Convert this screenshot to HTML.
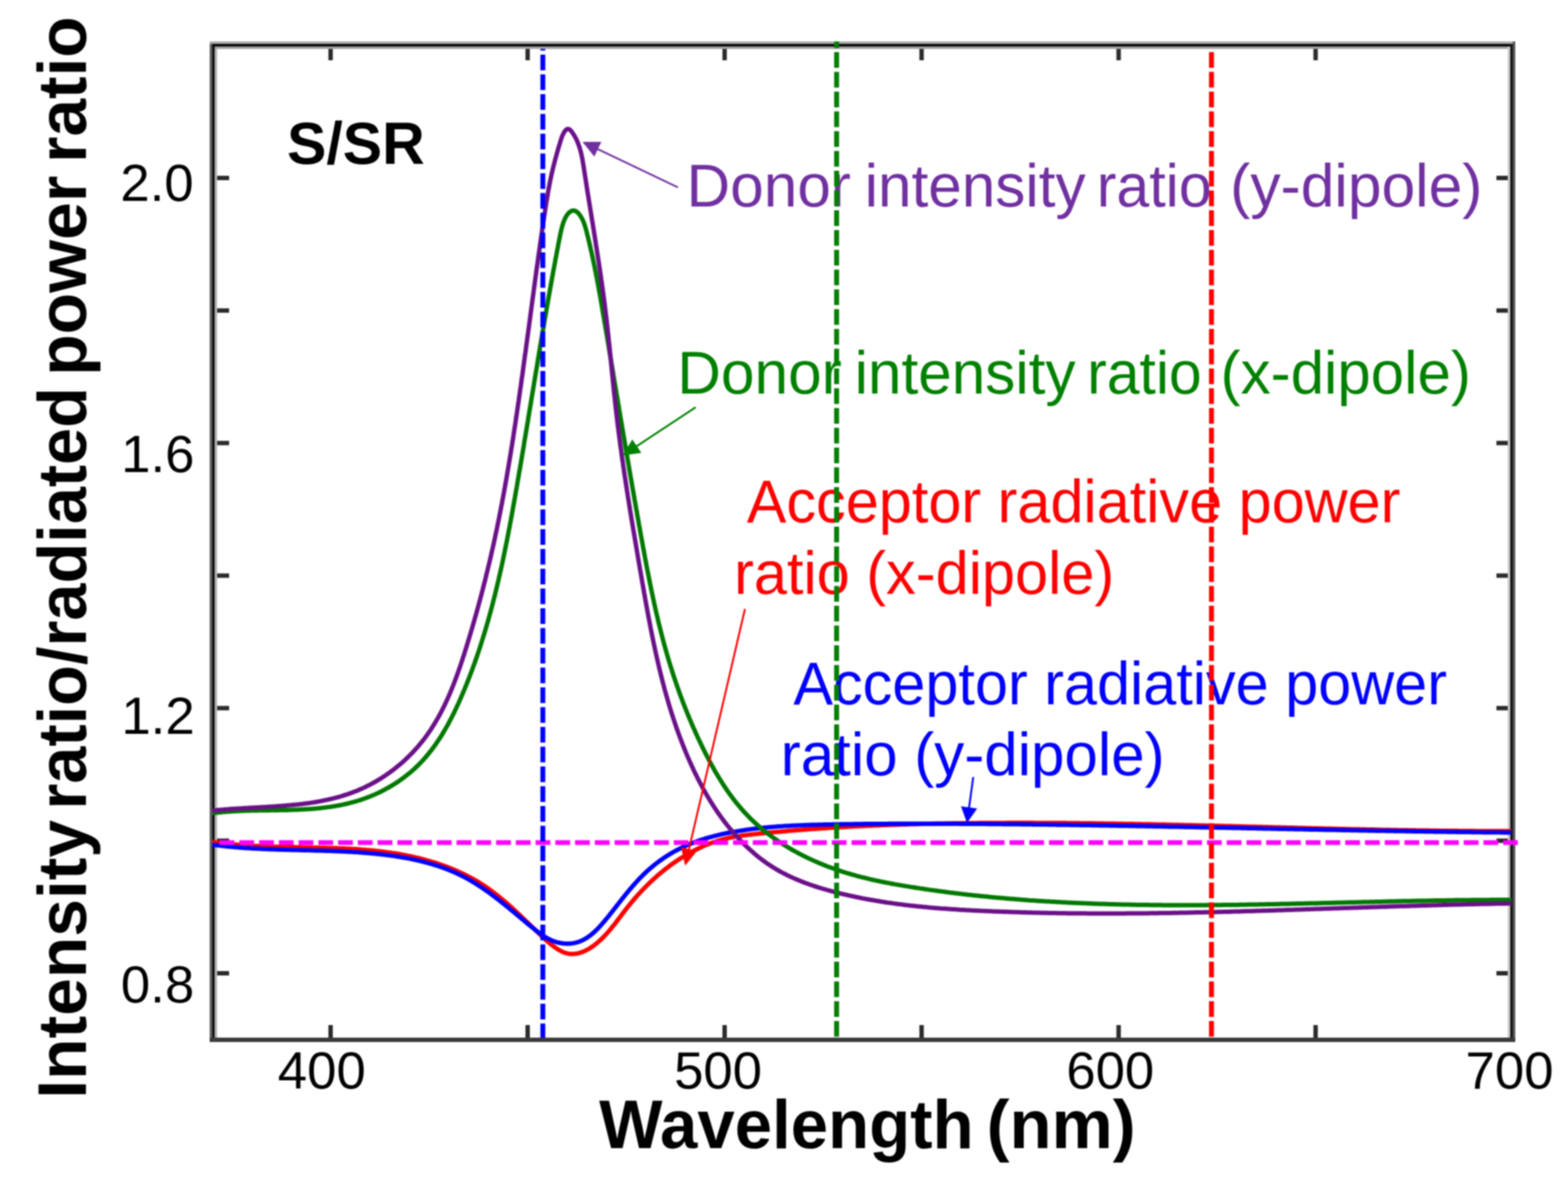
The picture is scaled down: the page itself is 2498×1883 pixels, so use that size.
<!DOCTYPE html>
<html><head><meta charset="utf-8"><title>S/SR intensity ratio vs wavelength</title>
<style>html,body{margin:0;padding:0;background:#fff;overflow:hidden;}svg{display:block;}</style>
</head><body>
<svg width="2498" height="1883" viewBox="0 0 2498 1883"><defs><filter id="soft" x="0" y="0" width="100%" height="100%" filterUnits="userSpaceOnUse" color-interpolation-filters="sRGB"><feGaussianBlur stdDeviation="1.1"/></filter></defs><rect width="2498" height="1883" fill="#fff"/><g filter="url(#soft)"><g shape-rendering="crispEdges"><rect x="334" y="66" width="4" height="1594" fill="#646464"/><rect x="338" y="70" width="4" height="1590" fill="#111"/><rect x="342" y="74" width="4" height="1579" fill="#b5b5b5"/><rect x="334" y="66" width="2080" height="4" fill="#aaa"/><rect x="338" y="70" width="2072" height="4" fill="#050505"/><rect x="342" y="74" width="2064" height="4" fill="#a0a0a0"/><rect x="2402" y="74" width="4" height="1579" fill="#c8c8c8"/><rect x="2406" y="70" width="4" height="1590" fill="#151515"/><rect x="2410" y="66" width="4" height="1594" fill="#555"/><rect x="334" y="1653" width="2080" height="7" fill="#3a3a3a"/></g><g stroke="#2a2a2a" stroke-width="7"><line x1="526.7" y1="1653" x2="526.7" y2="1633"/><line x1="526.7" y1="78" x2="526.7" y2="96"/><line x1="840.6" y1="1653" x2="840.6" y2="1633"/><line x1="840.6" y1="78" x2="840.6" y2="96"/><line x1="1154.4" y1="1653" x2="1154.4" y2="1633"/><line x1="1154.4" y1="78" x2="1154.4" y2="96"/><line x1="1468.2" y1="1653" x2="1468.2" y2="1633"/><line x1="1468.2" y1="78" x2="1468.2" y2="96"/><line x1="1782.1" y1="1653" x2="1782.1" y2="1633"/><line x1="1782.1" y1="78" x2="1782.1" y2="96"/><line x1="2095.9" y1="1653" x2="2095.9" y2="1633"/><line x1="2095.9" y1="78" x2="2095.9" y2="96"/><line x1="346" y1="283.5" x2="365" y2="283.5"/><line x1="2402" y1="283.5" x2="2384" y2="283.5"/><line x1="346" y1="494.7" x2="365" y2="494.7"/><line x1="2402" y1="494.7" x2="2384" y2="494.7"/><line x1="346" y1="705.8" x2="365" y2="705.8"/><line x1="2402" y1="705.8" x2="2384" y2="705.8"/><line x1="346" y1="917.0" x2="365" y2="917.0"/><line x1="2402" y1="917.0" x2="2384" y2="917.0"/><line x1="346" y1="1128.1" x2="365" y2="1128.1"/><line x1="2402" y1="1128.1" x2="2384" y2="1128.1"/><line x1="346" y1="1339.3" x2="365" y2="1339.3"/><line x1="2402" y1="1339.3" x2="2384" y2="1339.3"/><line x1="346" y1="1550.5" x2="365" y2="1550.5"/><line x1="2402" y1="1550.5" x2="2384" y2="1550.5"/></g><g fill="none" stroke-width="7" stroke-linejoin="round" stroke-linecap="butt"><path d="M338.0,1341.0L341.0,1341.4L344.0,1341.9L346.9,1342.3L349.9,1342.7L352.9,1343.1L355.9,1343.4L358.9,1343.8L361.8,1344.1L364.8,1344.4L367.8,1344.7L370.8,1345.0L373.8,1345.3L376.8,1345.6L379.8,1345.8L382.7,1346.1L385.7,1346.3L388.7,1346.5L391.7,1346.7L394.7,1347.0L397.7,1347.1L400.7,1347.3L403.7,1347.5L406.7,1347.7L409.7,1347.8L412.7,1348.0L415.7,1348.1L418.7,1348.2L421.7,1348.4L424.7,1348.5L427.7,1348.6L430.6,1348.7L433.6,1348.8L436.6,1348.9L439.6,1349.0L442.6,1349.1L445.6,1349.1L448.6,1349.2L451.6,1349.3L454.6,1349.3L457.7,1349.4L460.7,1349.5L463.7,1349.5L466.7,1349.6L469.7,1349.6L472.7,1349.7L475.7,1349.7L478.7,1349.8L481.7,1349.9L484.7,1349.9L487.7,1350.0L490.7,1350.0L493.7,1350.1L496.7,1350.1L499.7,1350.2L502.7,1350.2L505.7,1350.3L508.7,1350.4L511.7,1350.4L514.7,1350.5L517.7,1350.6L520.7,1350.7L523.7,1350.8L526.7,1350.8L529.7,1350.9L532.7,1351.0L535.7,1351.1L538.7,1351.3L541.7,1351.4L544.7,1351.5L547.7,1351.6L550.7,1351.8L553.7,1351.9L556.7,1352.1L559.7,1352.3L562.7,1352.4L565.7,1352.6L568.7,1352.8L571.6,1353.0L574.6,1353.2L577.6,1353.5L580.6,1353.7L583.6,1354.0L586.6,1354.2L589.6,1354.5L592.6,1354.8L595.6,1355.1L598.6,1355.4L601.5,1355.7L604.5,1356.1L607.5,1356.4L610.5,1356.8L613.5,1357.2L616.5,1357.6L619.4,1358.0L622.4,1358.4L625.4,1358.9L628.4,1359.3L631.3,1359.8L634.3,1360.3L637.3,1360.8L640.2,1361.4L643.2,1361.9L646.1,1362.5L649.1,1363.1L652.0,1363.7L655.0,1364.3L657.9,1365.0L660.8,1365.6L663.8,1366.3L666.7,1367.0L669.6,1367.7L672.5,1368.5L675.4,1369.2L678.3,1370.0L681.2,1370.8L684.1,1371.6L686.9,1372.5L689.8,1373.3L692.7,1374.2L695.5,1375.1L698.4,1376.1L701.2,1377.0L704.0,1378.0L706.8,1379.0L709.6,1380.0L712.4,1381.1L715.2,1382.2L718.0,1383.3L720.7,1384.4L723.5,1385.5L726.2,1386.7L728.9,1387.9L731.7,1389.1L734.4,1390.4L737.0,1391.6L739.7,1392.9L742.4,1394.3L745.0,1395.6L747.7,1397.0L750.3,1398.4L752.9,1399.8L755.5,1401.3L758.1,1402.8L760.7,1404.3L763.2,1405.8L765.7,1407.4L768.3,1409.0L770.8,1410.6L773.2,1412.3L775.7,1414.0L778.2,1415.7L780.6,1417.5L783.0,1419.2L785.4,1421.0L787.8,1422.9L790.2,1424.7L792.6,1426.6L794.9,1428.5L797.3,1430.4L799.6,1432.3L801.9,1434.2L804.2,1436.2L806.5,1438.2L808.8,1440.2L811.1,1442.2L813.4,1444.2L815.6,1446.2L817.9,1448.3L820.1,1450.3L822.3,1452.4L824.5,1454.5L826.7,1456.5L829.0,1458.6L831.1,1460.7L833.3,1462.8L835.5,1464.9L837.7,1467.0L839.9,1469.1L842.0,1471.1L844.2,1473.2L846.4,1475.3L848.5,1477.4L850.7,1479.5L852.8,1481.6L855.0,1483.6L857.1,1485.7L859.3,1487.7L861.4,1489.8L863.5,1491.8L865.7,1493.8L867.8,1495.8L870.0,1497.8L872.3,1499.8L874.5,1501.7L876.9,1503.7L879.3,1505.6L881.8,1507.5L884.4,1509.4L887.0,1511.2L889.8,1512.9L892.6,1514.5L895.4,1516.0L898.2,1517.2L901.1,1518.2L903.9,1518.9L906.7,1519.4L909.6,1519.7L912.4,1519.8L915.2,1519.6L918.0,1519.3L920.8,1518.7L923.6,1518.0L926.3,1517.1L929.0,1516.1L931.7,1514.9L934.4,1513.6L937.0,1512.2L939.6,1510.7L942.1,1509.0L944.6,1507.3L947.1,1505.5L949.5,1503.6L951.9,1501.6L954.2,1499.6L956.4,1497.5L958.7,1495.5L960.8,1493.3L962.9,1491.2L965.0,1489.0L967.0,1486.7L969.0,1484.5L971.0,1482.2L972.9,1479.9L974.8,1477.6L976.7,1475.2L978.6,1472.9L980.5,1470.5L982.3,1468.1L984.1,1465.7L985.9,1463.3L987.8,1460.9L989.6,1458.5L991.4,1456.1L993.2,1453.7L995.0,1451.3L996.9,1448.9L998.7,1446.6L1000.6,1444.2L1002.5,1441.9L1004.4,1439.5L1006.3,1437.2L1008.2,1434.9L1010.2,1432.6L1012.1,1430.4L1014.1,1428.1L1016.1,1425.9L1018.1,1423.6L1020.2,1421.4L1022.2,1419.2L1024.3,1417.1L1026.4,1414.9L1028.5,1412.8L1030.6,1410.6L1032.7,1408.5L1034.9,1406.5L1037.0,1404.4L1039.2,1402.3L1041.4,1400.3L1043.7,1398.3L1045.9,1396.3L1048.1,1394.4L1050.4,1392.4L1052.7,1390.5L1055.0,1388.6L1057.3,1386.7L1059.7,1384.8L1062.0,1383.0L1064.4,1381.2L1066.8,1379.4L1069.2,1377.6L1071.6,1375.9L1074.1,1374.2L1076.6,1372.5L1079.0,1370.8L1081.5,1369.2L1084.1,1367.5L1086.6,1366.0L1089.2,1364.4L1091.7,1362.8L1094.3,1361.3L1096.9,1359.8L1099.6,1358.4L1102.2,1356.9L1104.9,1355.5L1107.5,1354.2L1110.2,1352.8L1113.0,1351.5L1115.7,1350.2L1118.4,1349.0L1121.2,1347.7L1124.0,1346.6L1126.8,1345.4L1129.6,1344.3L1132.4,1343.2L1135.2,1342.2L1138.1,1341.2L1140.9,1340.3L1143.8,1339.4L1146.6,1338.5L1149.5,1337.7L1152.4,1336.9L1155.3,1336.2L1158.2,1335.5L1161.2,1334.8L1164.1,1334.2L1167.0,1333.6L1170.0,1333.1L1172.9,1332.6L1175.9,1332.1L1178.8,1331.7L1181.8,1331.2L1184.7,1330.8L1187.7,1330.5L1190.7,1330.1L1193.7,1329.7L1196.6,1329.4L1199.6,1329.1L1202.6,1328.8L1205.6,1328.4L1208.6,1328.1L1211.6,1327.8L1214.5,1327.5L1217.5,1327.2L1220.5,1326.9L1223.5,1326.6L1226.5,1326.3L1229.5,1326.1L1232.4,1325.8L1235.4,1325.5L1238.4,1325.2L1241.4,1324.9L1244.4,1324.7L1247.4,1324.4L1250.4,1324.2L1253.3,1323.9L1256.3,1323.6L1259.3,1323.4L1262.3,1323.1L1265.3,1322.9L1268.3,1322.6L1271.3,1322.4L1274.3,1322.2L1277.3,1321.9L1280.3,1321.7L1283.2,1321.5L1286.2,1321.3L1289.2,1321.0L1292.2,1320.8L1295.2,1320.6L1298.2,1320.4L1301.2,1320.2L1304.2,1320.0L1307.2,1319.8L1310.2,1319.6L1313.2,1319.4L1316.2,1319.2L1319.2,1319.0L1322.1,1318.8L1325.1,1318.6L1328.1,1318.5L1331.1,1318.3L1334.1,1318.1L1337.1,1317.9L1340.1,1317.8L1343.1,1317.6L1346.1,1317.4L1349.1,1317.3L1352.1,1317.1L1355.1,1316.9L1358.1,1316.8L1361.1,1316.6L1364.1,1316.5L1367.1,1316.3L1370.1,1316.2L1373.1,1316.0L1376.1,1315.9L1379.1,1315.8L1382.1,1315.6L1385.1,1315.5L1388.1,1315.4L1391.1,1315.2L1394.1,1315.1L1397.1,1315.0L1400.1,1314.9L1403.1,1314.8L1406.1,1314.6L1409.1,1314.5L1412.1,1314.4L1415.1,1314.3L1418.1,1314.2L1421.1,1314.1L1424.1,1314.0L1427.1,1313.9L1430.1,1313.8L1433.0,1313.7L1436.0,1313.6L1439.0,1313.5L1442.0,1313.4L1445.0,1313.3L1448.0,1313.2L1451.0,1313.1L1454.0,1313.0L1457.0,1313.0L1460.0,1312.9L1463.0,1312.8L1466.0,1312.7L1469.0,1312.6L1472.0,1312.6L1475.0,1312.5L1478.0,1312.4L1481.0,1312.4L1484.0,1312.3L1487.0,1312.2L1490.0,1312.2L1493.0,1312.1L1496.0,1312.0L1499.0,1312.0L1502.0,1311.9L1505.0,1311.9L1508.0,1311.8L1511.0,1311.8L1514.0,1311.7L1517.0,1311.7L1520.0,1311.6L1523.0,1311.6L1526.0,1311.5L1529.0,1311.5L1532.0,1311.4L1535.0,1311.4L1538.0,1311.4L1541.0,1311.3L1544.0,1311.3L1547.0,1311.2L1550.0,1311.2L1553.0,1311.2L1556.0,1311.2L1559.0,1311.1L1562.0,1311.1L1565.0,1311.1L1568.0,1311.0L1571.0,1311.0L1574.0,1311.0L1577.0,1311.0L1580.0,1311.0L1583.0,1310.9L1586.0,1310.9L1589.0,1310.9L1592.0,1310.9L1595.0,1310.9L1598.0,1310.9L1601.0,1310.9L1604.0,1310.8L1607.0,1310.8L1610.0,1310.8L1613.0,1310.8L1616.0,1310.8L1619.0,1310.8L1622.0,1310.8L1625.0,1310.8L1628.0,1310.8L1631.0,1310.8L1634.0,1310.8L1637.0,1310.8L1640.0,1310.8L1643.0,1310.8L1646.0,1310.8L1649.0,1310.9L1652.0,1310.9L1655.0,1310.9L1658.0,1310.9L1661.0,1310.9L1664.0,1310.9L1667.0,1310.9L1670.0,1310.9L1673.0,1311.0L1676.0,1311.0L1679.0,1311.0L1682.0,1311.0L1685.0,1311.0L1688.0,1311.1L1691.0,1311.1L1694.0,1311.1L1697.0,1311.1L1700.0,1311.2L1703.0,1311.2L1706.0,1311.2L1709.0,1311.2L1712.0,1311.3L1715.0,1311.3L1718.0,1311.3L1721.0,1311.4L1724.0,1311.4L1727.0,1311.4L1730.0,1311.5L1733.0,1311.5L1736.0,1311.6L1739.0,1311.6L1742.0,1311.6L1745.0,1311.7L1748.0,1311.7L1751.0,1311.7L1754.0,1311.8L1757.0,1311.8L1760.0,1311.9L1763.0,1311.9L1766.0,1312.0L1769.0,1312.0L1772.0,1312.1L1775.0,1312.1L1778.0,1312.2L1781.0,1312.2L1784.0,1312.3L1787.0,1312.3L1790.0,1312.4L1793.0,1312.4L1796.0,1312.5L1799.0,1312.5L1802.0,1312.6L1805.0,1312.6L1808.0,1312.7L1811.0,1312.7L1814.0,1312.8L1817.0,1312.8L1820.0,1312.9L1823.0,1313.0L1826.0,1313.0L1829.0,1313.1L1832.0,1313.1L1835.0,1313.2L1838.0,1313.3L1841.0,1313.3L1844.0,1313.4L1847.0,1313.5L1850.0,1313.5L1853.0,1313.6L1856.0,1313.6L1859.0,1313.7L1862.0,1313.8L1865.0,1313.8L1868.0,1313.9L1871.0,1314.0L1874.0,1314.0L1877.0,1314.1L1880.0,1314.2L1883.0,1314.2L1886.0,1314.3L1889.0,1314.4L1892.0,1314.4L1895.0,1314.5L1898.0,1314.6L1901.0,1314.7L1904.0,1314.7L1907.0,1314.8L1910.0,1314.9L1913.0,1314.9L1916.0,1315.0L1919.0,1315.1L1922.0,1315.2L1925.0,1315.2L1928.0,1315.3L1931.0,1315.4L1934.0,1315.4L1937.0,1315.5L1940.0,1315.6L1943.0,1315.7L1946.0,1315.7L1949.0,1315.8L1952.0,1315.9L1955.0,1316.0L1958.0,1316.0L1961.0,1316.1L1964.0,1316.2L1967.0,1316.3L1970.0,1316.3L1973.0,1316.4L1976.0,1316.5L1979.0,1316.6L1982.0,1316.7L1985.0,1316.7L1988.0,1316.8L1991.0,1316.9L1994.0,1317.0L1997.0,1317.0L2000.0,1317.1L2003.0,1317.2L2006.0,1317.3L2009.0,1317.3L2012.0,1317.4L2015.0,1317.5L2018.0,1317.6L2021.0,1317.7L2024.0,1317.7L2027.0,1317.8L2030.0,1317.9L2033.0,1318.0L2036.0,1318.0L2039.0,1318.1L2042.0,1318.2L2045.0,1318.3L2048.0,1318.3L2051.0,1318.4L2054.0,1318.5L2057.0,1318.6L2060.0,1318.6L2063.0,1318.7L2066.0,1318.8L2069.0,1318.9L2072.0,1318.9L2075.0,1319.0L2078.0,1319.1L2081.0,1319.2L2084.0,1319.2L2087.0,1319.3L2090.0,1319.4L2093.0,1319.5L2096.0,1319.5L2099.0,1319.6L2102.0,1319.7L2105.0,1319.8L2108.0,1319.8L2111.0,1319.9L2114.0,1320.0L2117.0,1320.0L2120.0,1320.1L2123.0,1320.2L2126.0,1320.3L2129.0,1320.3L2132.0,1320.4L2135.0,1320.5L2138.0,1320.5L2141.0,1320.6L2144.0,1320.7L2147.0,1320.7L2150.0,1320.8L2153.0,1320.9L2156.0,1320.9L2159.0,1321.0L2162.0,1321.1L2165.0,1321.1L2168.0,1321.2L2171.0,1321.3L2174.0,1321.3L2177.0,1321.4L2180.0,1321.4L2183.0,1321.5L2186.0,1321.6L2189.0,1321.6L2192.0,1321.7L2195.0,1321.8L2198.0,1321.8L2201.0,1321.9L2204.0,1321.9L2207.0,1322.0L2210.0,1322.0L2213.0,1322.1L2216.0,1322.2L2219.0,1322.2L2222.0,1322.3L2225.0,1322.3L2228.0,1322.4L2231.0,1322.4L2234.0,1322.5L2237.0,1322.5L2240.0,1322.6L2243.0,1322.6L2246.0,1322.7L2249.0,1322.7L2252.0,1322.8L2255.0,1322.8L2258.0,1322.9L2261.0,1322.9L2264.0,1323.0L2267.0,1323.0L2270.0,1323.0L2273.0,1323.1L2276.0,1323.1L2279.0,1323.2L2282.0,1323.2L2285.0,1323.2L2288.0,1323.3L2291.0,1323.3L2294.0,1323.4L2297.0,1323.4L2300.0,1323.4L2303.0,1323.5L2306.0,1323.5L2309.0,1323.5L2312.0,1323.6L2315.0,1323.6L2318.0,1323.6L2321.0,1323.6L2324.0,1323.7L2327.0,1323.7L2330.0,1323.7L2333.0,1323.7L2336.0,1323.8L2339.0,1323.8L2342.0,1323.8L2345.0,1323.8L2348.0,1323.8L2351.0,1323.9L2354.0,1323.9L2357.0,1323.9L2360.0,1323.9L2363.0,1323.9L2366.0,1323.9L2369.0,1323.9L2372.0,1324.0L2375.0,1324.0L2378.0,1324.0L2381.0,1324.0L2384.0,1324.0L2387.0,1324.0L2390.0,1324.0L2393.0,1324.0L2396.0,1324.0L2399.0,1324.0L2402.0,1324.0L2405.0,1324.0L2408.0,1324.0" stroke="#ff0000"/><path d="M338.0,1345.5L341.0,1345.9L344.0,1346.3L347.1,1346.7L350.1,1347.0L353.1,1347.4L356.1,1347.7L359.1,1348.1L362.1,1348.4L365.2,1348.7L368.2,1349.0L371.2,1349.2L374.2,1349.5L377.2,1349.8L380.2,1350.0L383.2,1350.3L386.2,1350.5L389.2,1350.7L392.1,1350.9L395.1,1351.1L398.1,1351.3L401.1,1351.5L404.1,1351.7L407.1,1351.8L410.1,1352.0L413.1,1352.1L416.0,1352.3L419.0,1352.4L422.0,1352.6L425.0,1352.7L428.0,1352.8L431.0,1352.9L433.9,1353.0L436.9,1353.1L439.9,1353.2L442.9,1353.3L445.8,1353.4L448.8,1353.5L451.8,1353.6L454.8,1353.7L457.7,1353.8L460.7,1353.8L463.7,1353.9L466.7,1354.0L469.6,1354.1L472.6,1354.1L475.6,1354.2L478.6,1354.3L481.5,1354.4L484.5,1354.4L487.5,1354.5L490.5,1354.6L493.5,1354.6L496.4,1354.7L499.4,1354.8L502.4,1354.9L505.4,1354.9L508.4,1355.0L511.3,1355.1L514.3,1355.2L517.3,1355.3L520.3,1355.4L523.3,1355.5L526.3,1355.6L529.3,1355.7L532.3,1355.8L535.2,1355.9L538.2,1356.1L541.2,1356.2L544.2,1356.3L547.2,1356.5L550.2,1356.6L553.2,1356.8L556.2,1356.9L559.2,1357.1L562.3,1357.3L565.3,1357.5L568.3,1357.6L571.3,1357.8L574.3,1358.1L577.3,1358.3L580.3,1358.5L583.4,1358.8L586.4,1359.0L589.4,1359.3L592.4,1359.5L595.5,1359.8L598.5,1360.1L601.5,1360.4L604.5,1360.8L607.6,1361.1L610.6,1361.4L613.6,1361.8L616.6,1362.2L619.6,1362.6L622.6,1363.0L625.7,1363.4L628.7,1363.8L631.7,1364.3L634.7,1364.8L637.6,1365.2L640.6,1365.7L643.6,1366.3L646.6,1366.8L649.6,1367.4L652.5,1367.9L655.5,1368.5L658.5,1369.2L661.4,1369.8L664.3,1370.4L667.3,1371.1L670.2,1371.8L673.1,1372.5L676.0,1373.3L678.9,1374.0L681.8,1374.8L684.7,1375.6L687.5,1376.5L690.4,1377.3L693.2,1378.2L696.1,1379.1L698.9,1380.0L701.7,1381.0L704.5,1382.0L707.3,1383.0L710.1,1384.0L712.8,1385.1L715.6,1386.2L718.3,1387.3L721.0,1388.4L723.7,1389.6L726.4,1390.8L729.1,1392.0L731.8,1393.3L734.4,1394.6L737.0,1395.9L739.7,1397.2L742.2,1398.6L744.8,1400.0L747.4,1401.5L749.9,1402.9L752.5,1404.4L755.0,1405.9L757.5,1407.5L760.0,1409.1L762.5,1410.7L765.0,1412.3L767.4,1413.9L769.9,1415.6L772.3,1417.3L774.8,1419.0L777.2,1420.7L779.6,1422.4L782.0,1424.2L784.4,1426.0L786.8,1427.8L789.2,1429.6L791.6,1431.4L794.0,1433.3L796.4,1435.1L798.7,1437.0L801.1,1438.9L803.5,1440.8L805.8,1442.7L808.2,1444.6L810.6,1446.5L812.9,1448.5L815.3,1450.4L817.6,1452.4L820.0,1454.3L822.4,1456.3L824.7,1458.3L827.1,1460.2L829.5,1462.2L831.9,1464.2L834.2,1466.2L836.6,1468.2L839.0,1470.2L841.4,1472.2L843.8,1474.2L846.2,1476.1L848.6,1478.1L851.1,1480.1L853.5,1482.0L856.0,1483.9L858.4,1485.8L860.9,1487.6L863.5,1489.4L866.0,1491.1L868.5,1492.7L871.1,1494.2L873.7,1495.6L876.4,1496.9L879.1,1498.2L881.8,1499.2L884.5,1500.2L887.3,1501.1L890.1,1501.8L892.9,1502.3L895.8,1502.8L898.6,1503.1L901.5,1503.3L904.3,1503.3L907.1,1503.2L910.0,1503.0L912.8,1502.6L915.6,1502.1L918.3,1501.5L921.0,1500.7L923.7,1499.7L926.4,1498.6L929.0,1497.4L931.5,1496.0L934.0,1494.5L936.5,1492.9L938.9,1491.2L941.3,1489.4L943.6,1487.5L946.0,1485.5L948.2,1483.4L950.5,1481.2L952.7,1479.0L954.9,1476.7L957.0,1474.3L959.1,1472.0L961.2,1469.5L963.3,1467.1L965.4,1464.6L967.4,1462.1L969.4,1459.7L971.4,1457.2L973.3,1454.7L975.3,1452.2L977.2,1449.8L979.1,1447.3L981.0,1444.9L982.9,1442.5L984.8,1440.1L986.7,1437.7L988.5,1435.3L990.4,1432.9L992.3,1430.6L994.2,1428.3L996.0,1425.9L997.9,1423.6L999.8,1421.3L1001.6,1419.1L1003.5,1416.8L1005.4,1414.6L1007.3,1412.3L1009.3,1410.1L1011.2,1407.9L1013.2,1405.8L1015.1,1403.6L1017.1,1401.5L1019.1,1399.3L1021.2,1397.2L1023.2,1395.2L1025.3,1393.1L1027.4,1391.1L1029.6,1389.0L1031.7,1387.0L1034.0,1385.1L1036.2,1383.1L1038.5,1381.2L1040.8,1379.3L1043.1,1377.4L1045.5,1375.5L1047.9,1373.7L1050.3,1371.9L1052.8,1370.1L1055.3,1368.3L1057.8,1366.6L1060.3,1364.9L1062.9,1363.3L1065.5,1361.7L1068.1,1360.1L1070.7,1358.6L1073.3,1357.0L1076.0,1355.6L1078.6,1354.2L1081.3,1352.8L1084.0,1351.4L1086.7,1350.1L1089.4,1348.8L1092.1,1347.6L1094.9,1346.4L1097.6,1345.2L1100.4,1344.1L1103.2,1343.0L1106.0,1341.9L1108.8,1340.9L1111.6,1339.8L1114.4,1338.9L1117.3,1337.9L1120.1,1337.0L1123.0,1336.1L1125.8,1335.2L1128.7,1334.4L1131.6,1333.6L1134.4,1332.8L1137.3,1332.0L1140.2,1331.3L1143.1,1330.6L1146.1,1329.9L1149.0,1329.2L1151.9,1328.5L1154.8,1327.9L1157.8,1327.3L1160.7,1326.7L1163.6,1326.2L1166.6,1325.6L1169.5,1325.1L1172.5,1324.6L1175.5,1324.1L1178.4,1323.6L1181.4,1323.1L1184.3,1322.7L1187.3,1322.2L1190.3,1321.8L1193.2,1321.4L1196.2,1321.0L1199.2,1320.6L1202.2,1320.3L1205.1,1319.9L1208.1,1319.6L1211.1,1319.3L1214.1,1318.9L1217.1,1318.6L1220.0,1318.3L1223.0,1318.1L1226.0,1317.8L1229.0,1317.5L1232.0,1317.3L1235.0,1317.1L1238.0,1316.8L1241.0,1316.6L1244.0,1316.4L1247.0,1316.2L1249.9,1316.0L1252.9,1315.8L1255.9,1315.7L1258.9,1315.5L1261.9,1315.3L1264.9,1315.2L1267.9,1315.0L1270.9,1314.9L1273.9,1314.8L1276.9,1314.7L1279.9,1314.5L1282.9,1314.4L1285.9,1314.3L1289.0,1314.2L1292.0,1314.1L1295.0,1314.0L1298.0,1314.0L1301.0,1313.9L1304.0,1313.8L1307.0,1313.7L1310.0,1313.7L1313.0,1313.6L1316.0,1313.5L1319.0,1313.5L1322.0,1313.4L1325.0,1313.4L1328.0,1313.3L1331.0,1313.3L1334.0,1313.2L1337.0,1313.2L1340.0,1313.1L1343.0,1313.1L1346.0,1313.0L1349.0,1313.0L1352.0,1312.9L1355.0,1312.9L1358.1,1312.9L1361.1,1312.8L1364.1,1312.8L1367.1,1312.7L1370.1,1312.7L1373.1,1312.7L1376.1,1312.6L1379.1,1312.6L1382.1,1312.6L1385.1,1312.6L1388.1,1312.5L1391.1,1312.5L1394.1,1312.5L1397.1,1312.5L1400.1,1312.4L1403.1,1312.4L1406.1,1312.4L1409.1,1312.4L1412.1,1312.4L1415.1,1312.3L1418.1,1312.3L1421.1,1312.3L1424.1,1312.3L1427.1,1312.3L1430.1,1312.3L1433.1,1312.3L1436.1,1312.2L1439.1,1312.2L1442.1,1312.2L1445.1,1312.2L1448.1,1312.2L1451.1,1312.2L1454.1,1312.2L1457.1,1312.2L1460.1,1312.2L1463.1,1312.2L1466.1,1312.2L1469.1,1312.2L1472.1,1312.2L1475.1,1312.2L1478.1,1312.2L1481.1,1312.2L1484.1,1312.2L1487.1,1312.2L1490.1,1312.2L1493.1,1312.2L1496.1,1312.2L1499.1,1312.2L1502.1,1312.2L1505.1,1312.3L1508.1,1312.3L1511.0,1312.3L1514.0,1312.3L1517.0,1312.3L1520.0,1312.3L1523.0,1312.3L1526.0,1312.3L1529.0,1312.4L1532.0,1312.4L1535.0,1312.4L1538.0,1312.4L1541.0,1312.4L1544.0,1312.4L1547.0,1312.5L1550.0,1312.5L1553.0,1312.5L1556.0,1312.5L1559.0,1312.5L1562.0,1312.6L1565.0,1312.6L1568.0,1312.6L1571.0,1312.6L1574.0,1312.7L1577.0,1312.7L1580.0,1312.7L1583.0,1312.7L1586.0,1312.8L1589.0,1312.8L1592.0,1312.8L1595.0,1312.8L1598.0,1312.9L1601.0,1312.9L1604.0,1312.9L1607.0,1312.9L1610.0,1313.0L1613.0,1313.0L1616.0,1313.0L1619.0,1313.1L1622.0,1313.1L1625.0,1313.1L1628.0,1313.2L1631.0,1313.2L1634.0,1313.2L1637.0,1313.3L1640.0,1313.3L1643.0,1313.3L1646.0,1313.4L1649.0,1313.4L1652.0,1313.4L1655.0,1313.5L1658.0,1313.5L1661.0,1313.6L1664.0,1313.6L1667.0,1313.6L1670.0,1313.7L1673.0,1313.7L1676.0,1313.7L1679.0,1313.8L1682.0,1313.8L1685.0,1313.9L1688.0,1313.9L1691.0,1314.0L1694.0,1314.0L1697.0,1314.0L1700.0,1314.1L1703.0,1314.1L1706.0,1314.2L1709.0,1314.2L1712.0,1314.3L1715.0,1314.3L1718.0,1314.3L1721.0,1314.4L1724.0,1314.4L1727.0,1314.5L1730.0,1314.5L1733.0,1314.6L1736.0,1314.6L1739.0,1314.7L1742.0,1314.7L1745.0,1314.8L1748.0,1314.8L1751.0,1314.9L1754.0,1314.9L1757.0,1315.0L1760.0,1315.0L1763.0,1315.1L1766.0,1315.1L1769.0,1315.2L1772.0,1315.2L1775.0,1315.3L1778.0,1315.3L1781.0,1315.4L1784.0,1315.4L1787.0,1315.5L1790.0,1315.5L1793.0,1315.6L1796.0,1315.6L1799.0,1315.7L1802.0,1315.7L1805.0,1315.8L1808.0,1315.8L1811.0,1315.9L1814.0,1316.0L1817.0,1316.0L1820.0,1316.1L1823.0,1316.1L1826.0,1316.2L1829.0,1316.2L1832.0,1316.3L1835.0,1316.3L1838.0,1316.4L1841.0,1316.5L1844.0,1316.5L1847.0,1316.6L1850.0,1316.6L1853.0,1316.7L1856.0,1316.7L1859.0,1316.8L1862.0,1316.9L1865.0,1316.9L1868.0,1317.0L1871.0,1317.0L1874.0,1317.1L1877.0,1317.1L1880.0,1317.2L1883.0,1317.3L1886.0,1317.3L1889.0,1317.4L1892.0,1317.4L1895.0,1317.5L1898.0,1317.6L1901.0,1317.6L1904.0,1317.7L1907.0,1317.7L1910.0,1317.8L1913.0,1317.9L1916.0,1317.9L1919.0,1318.0L1922.0,1318.0L1925.0,1318.1L1928.0,1318.2L1931.0,1318.2L1934.0,1318.3L1937.0,1318.3L1940.0,1318.4L1943.0,1318.5L1946.0,1318.5L1949.0,1318.6L1952.0,1318.6L1955.0,1318.7L1958.0,1318.8L1961.0,1318.8L1964.0,1318.9L1967.0,1318.9L1970.0,1319.0L1973.0,1319.1L1976.0,1319.1L1979.0,1319.2L1982.0,1319.3L1985.0,1319.3L1988.0,1319.4L1991.0,1319.4L1994.0,1319.5L1997.0,1319.6L2000.0,1319.6L2003.0,1319.7L2006.0,1319.7L2009.0,1319.8L2012.0,1319.9L2015.0,1319.9L2018.0,1320.0L2021.0,1320.1L2024.0,1320.1L2027.0,1320.2L2030.0,1320.2L2033.0,1320.3L2036.0,1320.4L2039.0,1320.4L2042.0,1320.5L2045.0,1320.5L2048.0,1320.6L2051.0,1320.7L2054.0,1320.7L2057.0,1320.8L2060.0,1320.8L2063.0,1320.9L2066.0,1321.0L2069.0,1321.0L2072.0,1321.1L2075.0,1321.1L2078.0,1321.2L2081.0,1321.3L2084.0,1321.3L2087.0,1321.4L2090.0,1321.4L2093.0,1321.5L2096.0,1321.6L2099.0,1321.6L2102.0,1321.7L2105.0,1321.7L2108.0,1321.8L2111.0,1321.9L2114.0,1321.9L2117.0,1322.0L2120.0,1322.0L2123.0,1322.1L2126.0,1322.1L2129.0,1322.2L2132.0,1322.3L2135.0,1322.3L2138.0,1322.4L2141.0,1322.4L2144.0,1322.5L2147.0,1322.5L2150.0,1322.6L2153.0,1322.7L2156.0,1322.7L2159.0,1322.8L2162.0,1322.8L2165.0,1322.9L2168.0,1322.9L2171.0,1323.0L2174.0,1323.0L2177.0,1323.1L2180.0,1323.2L2183.0,1323.2L2186.0,1323.3L2189.0,1323.3L2192.0,1323.4L2195.0,1323.4L2198.0,1323.5L2201.0,1323.5L2204.0,1323.6L2207.0,1323.6L2210.0,1323.7L2213.0,1323.7L2216.0,1323.8L2219.0,1323.8L2222.0,1323.9L2225.0,1323.9L2228.0,1324.0L2231.0,1324.0L2234.0,1324.1L2237.0,1324.1L2240.0,1324.2L2243.0,1324.2L2246.0,1324.3L2249.0,1324.3L2252.0,1324.4L2255.0,1324.4L2258.0,1324.5L2261.0,1324.5L2264.0,1324.6L2267.0,1324.6L2270.0,1324.7L2273.0,1324.7L2276.0,1324.7L2279.0,1324.8L2282.0,1324.8L2285.0,1324.9L2288.0,1324.9L2291.0,1325.0L2294.0,1325.0L2297.0,1325.0L2300.0,1325.1L2303.0,1325.1L2306.0,1325.2L2309.0,1325.2L2312.0,1325.3L2315.0,1325.3L2318.0,1325.3L2321.0,1325.4L2324.0,1325.4L2327.0,1325.4L2330.0,1325.5L2333.0,1325.5L2336.0,1325.6L2339.0,1325.6L2342.0,1325.6L2345.0,1325.7L2348.0,1325.7L2351.0,1325.7L2354.0,1325.8L2357.0,1325.8L2360.0,1325.8L2363.0,1325.9L2366.0,1325.9L2369.0,1325.9L2372.0,1326.0L2375.0,1326.0L2378.0,1326.0L2381.0,1326.1L2384.0,1326.1L2387.0,1326.1L2390.0,1326.1L2393.0,1326.2L2396.0,1326.2L2399.0,1326.2L2402.0,1326.2L2405.0,1326.3L2408.0,1326.3" stroke="#0000ff"/><path d="M338.0,1295.5L340.9,1295.1L343.8,1294.8L346.8,1294.5L349.7,1294.2L352.7,1293.9L355.6,1293.6L358.6,1293.4L361.5,1293.1L364.5,1292.9L367.5,1292.7L370.4,1292.5L373.4,1292.4L376.4,1292.2L379.4,1292.1L382.4,1291.9L385.4,1291.8L388.4,1291.7L391.4,1291.6L394.4,1291.5L397.4,1291.4L400.4,1291.3L403.4,1291.3L406.4,1291.2L409.5,1291.2L412.5,1291.1L415.5,1291.1L418.5,1291.0L421.6,1291.0L424.6,1290.9L427.6,1290.9L430.7,1290.8L433.7,1290.8L436.7,1290.8L439.8,1290.7L442.8,1290.7L445.8,1290.6L448.9,1290.6L451.9,1290.5L455.0,1290.4L458.0,1290.4L461.0,1290.3L464.0,1290.2L467.1,1290.1L470.1,1290.0L473.1,1289.9L476.2,1289.7L479.2,1289.6L482.2,1289.5L485.2,1289.3L488.2,1289.1L491.2,1288.9L494.2,1288.7L497.3,1288.5L500.3,1288.2L503.3,1288.0L506.2,1287.7L509.2,1287.4L512.2,1287.1L515.2,1286.8L518.2,1286.4L521.1,1286.0L524.1,1285.6L527.1,1285.2L530.0,1284.7L533.0,1284.3L535.9,1283.8L538.9,1283.2L541.8,1282.7L544.7,1282.1L547.6,1281.5L550.5,1280.8L553.4,1280.2L556.3,1279.5L559.2,1278.7L562.1,1278.0L565.0,1277.2L567.9,1276.3L570.7,1275.5L573.6,1274.6L576.4,1273.6L579.2,1272.7L582.1,1271.6L584.9,1270.6L587.7,1269.5L590.4,1268.4L593.2,1267.3L596.0,1266.1L598.7,1264.9L601.5,1263.6L604.2,1262.3L606.9,1261.0L609.6,1259.7L612.2,1258.3L614.9,1256.8L617.5,1255.4L620.1,1253.9L622.7,1252.4L625.3,1250.9L627.8,1249.3L630.4,1247.7L632.9,1246.0L635.4,1244.3L637.8,1242.6L640.3,1240.9L642.7,1239.1L645.1,1237.3L647.4,1235.5L649.8,1233.6L652.1,1231.8L654.4,1229.8L656.6,1227.9L658.9,1225.9L661.1,1223.9L663.2,1221.9L665.4,1219.8L667.5,1217.7L669.5,1215.6L671.6,1213.4L673.6,1211.3L675.6,1209.1L677.6,1206.8L679.5,1204.6L681.4,1202.3L683.3,1200.0L685.1,1197.7L687.0,1195.3L688.8,1193.0L690.5,1190.6L692.3,1188.2L694.0,1185.7L695.7,1183.3L697.4,1180.8L699.1,1178.3L700.7,1175.8L702.3,1173.3L703.9,1170.8L705.5,1168.2L707.0,1165.6L708.5,1163.0L710.1,1160.4L711.5,1157.8L713.0,1155.2L714.5,1152.5L715.9,1149.9L717.3,1147.2L718.7,1144.5L720.1,1141.8L721.4,1139.1L722.8,1136.4L724.1,1133.7L725.4,1130.9L726.7,1128.2L728.0,1125.4L729.3,1122.7L730.6,1119.9L731.8,1117.1L733.0,1114.4L734.2,1111.6L735.5,1108.8L736.6,1106.0L737.8,1103.2L739.0,1100.4L740.2,1097.6L741.3,1094.8L742.5,1092.0L743.6,1089.2L744.7,1086.4L745.8,1083.6L746.9,1080.8L748.0,1078.0L749.1,1075.1L750.2,1072.3L751.2,1069.5L752.3,1066.7L753.3,1063.8L754.3,1061.0L755.4,1058.2L756.4,1055.4L757.4,1052.5L758.4,1049.7L759.4,1046.8L760.3,1044.0L761.3,1041.2L762.3,1038.3L763.2,1035.5L764.2,1032.6L765.1,1029.8L766.0,1026.9L766.9,1024.0L767.8,1021.2L768.7,1018.3L769.6,1015.5L770.5,1012.6L771.4,1009.7L772.3,1006.9L773.1,1004.0L774.0,1001.1L774.8,998.2L775.6,995.4L776.5,992.5L777.3,989.6L778.1,986.7L778.9,983.9L779.7,981.0L780.5,978.1L781.3,975.2L782.1,972.3L782.9,969.4L783.6,966.5L784.4,963.6L785.1,960.7L785.9,957.8L786.6,954.9L787.4,952.0L788.1,949.1L788.8,946.2L789.5,943.3L790.2,940.4L790.9,937.5L791.6,934.6L792.3,931.7L793.0,928.8L793.7,925.9L794.4,923.0L795.0,920.0L795.7,917.1L796.4,914.2L797.0,911.3L797.7,908.4L798.3,905.5L799.0,902.5L799.6,899.6L800.2,896.7L800.9,893.8L801.5,890.8L802.1,887.9L802.7,885.0L803.3,882.0L803.9,879.1L804.5,876.2L805.1,873.2L805.7,870.3L806.3,867.4L806.9,864.4L807.5,861.5L808.1,858.6L808.6,855.6L809.2,852.7L809.8,849.7L810.3,846.8L810.9,843.8L811.5,840.9L812.0,838.0L812.6,835.0L813.1,832.1L813.7,829.1L814.2,826.2L814.8,823.2L815.3,820.3L815.8,817.3L816.4,814.4L816.9,811.4L817.4,808.5L818.0,805.5L818.5,802.6L819.0,799.6L819.5,796.7L820.1,793.7L820.6,790.8L821.1,787.8L821.6,784.8L822.1,781.9L822.7,778.9L823.2,776.0L823.7,773.0L824.2,770.1L824.7,767.1L825.2,764.1L825.7,761.2L826.2,758.2L826.7,755.3L827.2,752.3L827.7,749.3L828.3,746.4L828.8,743.4L829.3,740.5L829.8,737.5L830.3,734.5L830.8,731.6L831.3,728.6L831.8,725.7L832.3,722.7L832.8,719.7L833.3,716.8L833.8,713.8L834.3,710.8L834.7,707.9L835.2,704.9L835.7,702.0L836.2,699.0L836.7,696.0L837.2,693.1L837.7,690.1L838.2,687.1L838.7,684.2L839.2,681.2L839.7,678.2L840.2,675.3L840.7,672.3L841.2,669.3L841.6,666.4L842.1,663.4L842.6,660.4L843.1,657.5L843.6,654.5L844.1,651.5L844.6,648.6L845.1,645.6L845.6,642.6L846.1,639.7L846.5,636.7L847.0,633.7L847.5,630.8L848.0,627.8L848.5,624.8L849.0,621.9L849.5,618.9L850.0,615.9L850.5,613.0L850.9,610.0L851.4,607.1L851.9,604.1L852.4,601.1L852.9,598.2L853.4,595.2L853.9,592.2L854.4,589.3L854.9,586.3L855.4,583.3L855.9,580.4L856.4,577.4L856.8,574.4L857.3,571.5L857.8,568.5L858.3,565.5L858.8,562.6L859.3,559.6L859.8,556.6L860.3,553.7L860.8,550.7L861.3,547.8L861.8,544.8L862.3,541.8L862.8,538.9L863.3,535.9L863.8,532.9L864.3,530.0L864.8,527.0L865.3,524.1L865.8,521.1L866.3,518.1L866.8,515.2L867.3,512.2L867.8,509.3L868.4,506.3L868.9,503.3L869.4,500.4L869.9,497.4L870.4,494.5L870.9,491.5L871.4,488.6L871.9,485.6L872.5,482.6L873.0,479.7L873.5,476.7L874.0,473.8L874.5,470.8L875.1,467.9L875.6,464.9L876.1,462.0L876.6,459.0L877.2,456.0L877.7,453.1L878.2,450.1L878.8,447.2L879.3,444.2L879.8,441.3L880.4,438.3L880.9,435.4L881.4,432.4L882.0,429.5L882.5,426.5L883.1,423.6L883.6,420.6L884.2,417.7L884.7,414.8L885.2,411.8L885.8,408.9L886.4,405.9L886.9,403.0L887.5,400.0L888.0,397.1L888.6,394.2L889.1,391.2L889.7,388.3L890.3,385.4L890.8,382.5L891.4,379.7L891.9,376.8L892.5,374.0L893.1,371.1L893.7,368.2L894.4,365.3L895.2,362.3L896.0,359.3L897.0,356.1L898.1,352.9L899.3,349.8L900.8,346.8L902.4,343.9L904.2,341.3L906.2,339.0L908.4,337.2L910.6,336.0L912.9,335.4L915.2,335.5L917.4,336.4L919.5,337.9L921.6,339.9L923.5,342.3L925.3,344.9L926.8,347.6L928.3,350.4L929.5,353.2L930.6,356.0L931.6,358.9L932.5,361.8L933.4,364.8L934.1,367.7L934.9,370.6L935.6,373.6L936.4,376.6L937.1,379.5L937.8,382.5L938.5,385.4L939.2,388.4L939.9,391.3L940.6,394.3L941.2,397.2L941.9,400.2L942.6,403.1L943.2,406.1L943.9,409.0L944.5,412.0L945.1,414.9L945.7,417.9L946.3,420.8L947.0,423.8L947.6,426.7L948.1,429.7L948.7,432.6L949.3,435.6L949.9,438.5L950.5,441.5L951.0,444.4L951.6,447.4L952.2,450.3L952.7,453.3L953.3,456.2L953.8,459.2L954.3,462.1L954.9,465.1L955.4,468.0L955.9,471.0L956.5,473.9L957.0,476.9L957.5,479.8L958.0,482.8L958.5,485.8L959.0,488.7L959.5,491.7L960.0,494.6L960.5,497.6L961.0,500.5L961.5,503.5L962.0,506.4L962.5,509.4L963.0,512.3L963.5,515.3L964.0,518.2L964.5,521.2L965.0,524.1L965.5,527.1L966.0,530.0L966.5,533.0L967.0,535.9L967.5,538.9L968.0,541.8L968.5,544.8L969.0,547.7L969.5,550.7L969.9,553.6L970.4,556.6L970.9,559.6L971.4,562.5L971.9,565.5L972.4,568.4L972.9,571.4L973.4,574.3L973.9,577.3L974.4,580.2L974.9,583.2L975.4,586.1L975.9,589.1L976.4,592.0L976.9,595.0L977.3,598.0L977.8,600.9L978.3,603.9L978.8,606.8L979.3,609.8L979.8,612.7L980.3,615.7L980.8,618.6L981.3,621.6L981.8,624.6L982.3,627.5L982.8,630.5L983.3,633.4L983.8,636.4L984.3,639.3L984.8,642.3L985.3,645.3L985.8,648.2L986.3,651.2L986.7,654.1L987.2,657.1L987.7,660.0L988.2,663.0L988.7,666.0L989.2,668.9L989.7,671.9L990.2,674.8L990.7,677.8L991.2,680.7L991.7,683.7L992.2,686.7L992.7,689.6L993.2,692.6L993.7,695.5L994.2,698.5L994.7,701.4L995.2,704.4L995.7,707.4L996.2,710.3L996.7,713.3L997.2,716.2L997.8,719.2L998.3,722.2L998.8,725.1L999.3,728.1L999.8,731.0L1000.3,734.0L1000.8,736.9L1001.3,739.9L1001.8,742.9L1002.3,745.8L1002.8,748.8L1003.3,751.7L1003.8,754.7L1004.3,757.7L1004.9,760.6L1005.4,763.6L1005.9,766.5L1006.4,769.5L1006.9,772.5L1007.4,775.4L1007.9,778.4L1008.5,781.3L1009.0,784.3L1009.5,787.3L1010.0,790.2L1010.5,793.2L1011.0,796.1L1011.6,799.1L1012.1,802.1L1012.6,805.0L1013.1,808.0L1013.6,810.9L1014.2,813.9L1014.7,816.9L1015.2,819.8L1015.7,822.8L1016.3,825.7L1016.8,828.7L1017.3,831.7L1017.8,834.6L1018.4,837.6L1018.9,840.5L1019.4,843.5L1020.0,846.5L1020.5,849.4L1021.0,852.4L1021.6,855.3L1022.1,858.3L1022.6,861.3L1023.2,864.2L1023.7,867.2L1024.2,870.1L1024.8,873.1L1025.3,876.0L1025.9,879.0L1026.4,882.0L1027.0,884.9L1027.5,887.9L1028.1,890.8L1028.6,893.8L1029.2,896.7L1029.7,899.7L1030.3,902.7L1030.9,905.6L1031.4,908.6L1032.0,911.5L1032.6,914.5L1033.2,917.4L1033.8,920.4L1034.3,923.3L1034.9,926.3L1035.5,929.2L1036.1,932.1L1036.7,935.1L1037.3,938.0L1037.9,941.0L1038.6,943.9L1039.2,946.9L1039.8,949.8L1040.4,952.7L1041.1,955.7L1041.7,958.6L1042.3,961.5L1043.0,964.5L1043.6,967.4L1044.3,970.3L1044.9,973.2L1045.6,976.2L1046.3,979.1L1047.0,982.0L1047.7,984.9L1048.3,987.8L1049.0,990.8L1049.7,993.7L1050.5,996.6L1051.2,999.5L1051.9,1002.4L1052.6,1005.3L1053.4,1008.2L1054.1,1011.1L1054.9,1014.0L1055.6,1016.9L1056.4,1019.8L1057.1,1022.7L1057.9,1025.6L1058.7,1028.5L1059.5,1031.3L1060.3,1034.2L1061.1,1037.1L1061.9,1040.0L1062.8,1042.9L1063.6,1045.7L1064.4,1048.6L1065.3,1051.5L1066.1,1054.3L1067.0,1057.2L1067.9,1060.0L1068.8,1062.9L1069.7,1065.7L1070.6,1068.6L1071.5,1071.4L1072.4,1074.3L1073.3,1077.1L1074.3,1080.0L1075.2,1082.8L1076.2,1085.6L1077.1,1088.5L1078.1,1091.3L1079.1,1094.1L1080.1,1096.9L1081.1,1099.7L1082.1,1102.6L1083.1,1105.4L1084.1,1108.2L1085.2,1111.0L1086.2,1113.8L1087.3,1116.6L1088.3,1119.4L1089.4,1122.2L1090.5,1125.0L1091.6,1127.7L1092.7,1130.5L1093.8,1133.3L1094.9,1136.1L1096.1,1138.9L1097.2,1141.6L1098.3,1144.4L1099.5,1147.2L1100.7,1149.9L1101.9,1152.7L1103.0,1155.4L1104.2,1158.2L1105.5,1160.9L1106.7,1163.7L1107.9,1166.4L1109.1,1169.2L1110.4,1171.9L1111.6,1174.6L1112.9,1177.4L1114.2,1180.1L1115.5,1182.8L1116.8,1185.5L1118.1,1188.3L1119.4,1191.0L1120.7,1193.7L1122.1,1196.4L1123.4,1199.1L1124.8,1201.8L1126.2,1204.5L1127.6,1207.2L1129.0,1209.8L1130.4,1212.5L1131.8,1215.2L1133.2,1217.8L1134.7,1220.5L1136.2,1223.1L1137.6,1225.8L1139.1,1228.4L1140.6,1231.0L1142.2,1233.6L1143.7,1236.2L1145.3,1238.8L1146.8,1241.3L1148.4,1243.9L1150.0,1246.4L1151.6,1249.0L1153.3,1251.5L1154.9,1254.0L1156.6,1256.5L1158.3,1259.0L1160.0,1261.4L1161.7,1263.9L1163.5,1266.3L1165.3,1268.7L1167.0,1271.1L1168.8,1273.5L1170.7,1275.9L1172.5,1278.2L1174.4,1280.5L1176.3,1282.8L1178.2,1285.1L1180.1,1287.4L1182.1,1289.6L1184.1,1291.9L1186.1,1294.1L1188.1,1296.2L1190.1,1298.4L1192.2,1300.5L1194.3,1302.7L1196.4,1304.8L1198.5,1306.8L1200.7,1308.9L1202.9,1310.9L1205.1,1312.9L1207.3,1314.9L1209.5,1316.9L1211.8,1318.8L1214.1,1320.7L1216.4,1322.6L1218.7,1324.5L1221.1,1326.3L1223.4,1328.2L1225.8,1330.0L1228.2,1331.8L1230.6,1333.5L1233.0,1335.3L1235.5,1337.0L1238.0,1338.7L1240.5,1340.4L1243.0,1342.0L1245.5,1343.7L1248.0,1345.3L1250.5,1346.9L1253.1,1348.5L1255.7,1350.0L1258.3,1351.6L1260.9,1353.1L1263.5,1354.6L1266.1,1356.0L1268.8,1357.5L1271.4,1358.9L1274.1,1360.3L1276.8,1361.7L1279.5,1363.1L1282.2,1364.4L1284.9,1365.8L1287.6,1367.1L1290.3,1368.4L1293.1,1369.6L1295.8,1370.9L1298.6,1372.1L1301.4,1373.3L1304.1,1374.5L1306.9,1375.7L1309.7,1376.8L1312.5,1378.0L1315.3,1379.1L1318.1,1380.2L1321.0,1381.2L1323.8,1382.3L1326.6,1383.3L1329.5,1384.3L1332.3,1385.3L1335.2,1386.3L1338.0,1387.2L1340.9,1388.2L1343.7,1389.1L1346.6,1390.0L1349.5,1390.9L1352.3,1391.7L1355.2,1392.6L1358.1,1393.4L1361.0,1394.2L1363.9,1395.0L1366.8,1395.8L1369.7,1396.5L1372.6,1397.3L1375.5,1398.0L1378.4,1398.7L1381.3,1399.4L1384.2,1400.1L1387.1,1400.8L1390.0,1401.5L1392.9,1402.1L1395.9,1402.8L1398.8,1403.4L1401.7,1404.0L1404.6,1404.6L1407.6,1405.2L1410.5,1405.8L1413.5,1406.4L1416.4,1406.9L1419.3,1407.5L1422.3,1408.0L1425.2,1408.6L1428.2,1409.1L1431.1,1409.6L1434.1,1410.1L1437.0,1410.6L1440.0,1411.1L1442.9,1411.6L1445.9,1412.1L1448.9,1412.6L1451.8,1413.1L1454.8,1413.5L1457.7,1414.0L1460.7,1414.5L1463.7,1414.9L1466.6,1415.4L1469.6,1415.8L1472.6,1416.3L1475.5,1416.7L1478.5,1417.1L1481.5,1417.6L1484.5,1418.0L1487.4,1418.4L1490.4,1418.8L1493.4,1419.2L1496.4,1419.6L1499.3,1420.0L1502.3,1420.4L1505.3,1420.8L1508.3,1421.2L1511.3,1421.6L1514.2,1422.0L1517.2,1422.3L1520.2,1422.7L1523.2,1423.1L1526.2,1423.4L1529.2,1423.8L1532.1,1424.1L1535.1,1424.5L1538.1,1424.8L1541.1,1425.2L1544.1,1425.5L1547.1,1425.8L1550.1,1426.2L1553.0,1426.5L1556.0,1426.8L1559.0,1427.1L1562.0,1427.4L1565.0,1427.7L1568.0,1428.0L1571.0,1428.3L1574.0,1428.6L1577.0,1428.9L1580.0,1429.2L1582.9,1429.5L1585.9,1429.8L1588.9,1430.0L1591.9,1430.3L1594.9,1430.6L1597.9,1430.8L1600.9,1431.1L1603.9,1431.4L1606.9,1431.6L1609.9,1431.9L1612.9,1432.1L1615.8,1432.3L1618.8,1432.6L1621.8,1432.8L1624.8,1433.1L1627.8,1433.3L1630.8,1433.5L1633.8,1433.7L1636.8,1433.9L1639.8,1434.2L1642.8,1434.4L1645.8,1434.6L1648.8,1434.8L1651.8,1435.0L1654.8,1435.2L1657.8,1435.4L1660.7,1435.6L1663.7,1435.8L1666.7,1435.9L1669.7,1436.1L1672.7,1436.3L1675.7,1436.5L1678.7,1436.6L1681.7,1436.8L1684.7,1437.0L1687.7,1437.1L1690.7,1437.3L1693.7,1437.5L1696.7,1437.6L1699.7,1437.8L1702.7,1437.9L1705.7,1438.0L1708.7,1438.2L1711.7,1438.3L1714.7,1438.5L1717.7,1438.6L1720.7,1438.7L1723.7,1438.8L1726.7,1439.0L1729.7,1439.1L1732.7,1439.2L1735.7,1439.3L1738.7,1439.4L1741.6,1439.5L1744.6,1439.7L1747.6,1439.8L1750.6,1439.9L1753.6,1440.0L1756.6,1440.1L1759.6,1440.1L1762.6,1440.2L1765.6,1440.3L1768.6,1440.4L1771.6,1440.5L1774.6,1440.6L1777.6,1440.7L1780.6,1440.7L1783.6,1440.8L1786.6,1440.9L1789.6,1440.9L1792.6,1441.0L1795.6,1441.1L1798.6,1441.1L1801.6,1441.2L1804.6,1441.2L1807.6,1441.3L1810.6,1441.4L1813.6,1441.4L1816.6,1441.5L1819.6,1441.5L1822.6,1441.5L1825.6,1441.6L1828.6,1441.6L1831.6,1441.7L1834.6,1441.7L1837.6,1441.7L1840.6,1441.8L1843.6,1441.8L1846.6,1441.8L1849.6,1441.8L1852.6,1441.9L1855.6,1441.9L1858.6,1441.9L1861.6,1441.9L1864.6,1441.9L1867.6,1441.9L1870.6,1442.0L1873.6,1442.0L1876.7,1442.0L1879.7,1442.0L1882.7,1442.0L1885.7,1442.0L1888.7,1442.0L1891.7,1442.0L1894.7,1442.0L1897.7,1442.0L1900.7,1442.0L1903.7,1442.0L1906.7,1441.9L1909.7,1441.9L1912.7,1441.9L1915.7,1441.9L1918.7,1441.9L1921.7,1441.9L1924.7,1441.8L1927.7,1441.8L1930.7,1441.8L1933.7,1441.8L1936.7,1441.8L1939.7,1441.7L1942.7,1441.7L1945.7,1441.7L1948.7,1441.6L1951.7,1441.6L1954.7,1441.6L1957.7,1441.5L1960.7,1441.5L1963.7,1441.5L1966.7,1441.4L1969.7,1441.4L1972.7,1441.4L1975.7,1441.3L1978.7,1441.3L1981.7,1441.2L1984.7,1441.2L1987.8,1441.1L1990.8,1441.1L1993.8,1441.0L1996.8,1441.0L1999.8,1440.9L2002.8,1440.9L2005.8,1440.8L2008.8,1440.8L2011.8,1440.7L2014.8,1440.7L2017.8,1440.6L2020.8,1440.6L2023.8,1440.5L2026.8,1440.4L2029.8,1440.4L2032.8,1440.3L2035.8,1440.3L2038.8,1440.2L2041.8,1440.1L2044.8,1440.1L2047.8,1440.0L2050.8,1440.0L2053.8,1439.9L2056.8,1439.8L2059.8,1439.8L2062.8,1439.7L2065.8,1439.6L2068.9,1439.6L2071.9,1439.5L2074.9,1439.4L2077.9,1439.3L2080.9,1439.3L2083.9,1439.2L2086.9,1439.1L2089.9,1439.1L2092.9,1439.0L2095.9,1438.9L2098.9,1438.9L2101.9,1438.8L2104.9,1438.7L2107.9,1438.6L2110.9,1438.6L2113.9,1438.5L2116.9,1438.4L2119.9,1438.3L2122.9,1438.3L2125.9,1438.2L2128.9,1438.1L2131.9,1438.1L2134.9,1438.0L2137.9,1437.9L2140.9,1437.8L2143.9,1437.8L2146.9,1437.7L2149.9,1437.6L2153.0,1437.5L2156.0,1437.5L2159.0,1437.4L2162.0,1437.3L2165.0,1437.2L2168.0,1437.2L2171.0,1437.1L2174.0,1437.0L2177.0,1437.0L2180.0,1436.9L2183.0,1436.8L2186.0,1436.7L2189.0,1436.7L2192.0,1436.6L2195.0,1436.5L2198.0,1436.5L2201.0,1436.4L2204.0,1436.3L2207.0,1436.2L2210.0,1436.2L2213.0,1436.1L2216.0,1436.0L2219.0,1436.0L2222.0,1435.9L2225.0,1435.8L2228.0,1435.8L2231.0,1435.7L2234.0,1435.6L2237.0,1435.6L2240.0,1435.5L2243.0,1435.4L2246.0,1435.4L2249.0,1435.3L2252.0,1435.3L2255.0,1435.2L2258.0,1435.1L2261.0,1435.1L2264.0,1435.0L2267.0,1435.0L2270.0,1434.9L2273.0,1434.9L2276.0,1434.8L2279.0,1434.8L2282.0,1434.7L2285.0,1434.6L2288.0,1434.6L2291.0,1434.5L2294.0,1434.5L2297.0,1434.5L2300.0,1434.4L2303.0,1434.4L2306.1,1434.3L2309.1,1434.3L2312.1,1434.2L2315.1,1434.2L2318.1,1434.1L2321.1,1434.1L2324.0,1434.1L2327.0,1434.0L2330.0,1434.0L2333.0,1434.0L2336.0,1433.9L2339.0,1433.9L2342.0,1433.9L2345.0,1433.8L2348.0,1433.8L2351.0,1433.8L2354.0,1433.8L2357.0,1433.7L2360.0,1433.7L2363.0,1433.7L2366.0,1433.7L2369.0,1433.7L2372.0,1433.7L2375.0,1433.6L2378.0,1433.6L2381.0,1433.6L2384.0,1433.6L2387.0,1433.6L2390.0,1433.6L2393.0,1433.6L2396.0,1433.6L2399.0,1433.6L2402.0,1433.6L2405.0,1433.6L2408.0,1433.6" stroke="#007800"/><path d="M338.0,1291.5L340.9,1291.2L343.8,1290.9L346.8,1290.6L349.7,1290.3L352.7,1290.0L355.6,1289.8L358.6,1289.5L361.5,1289.3L364.5,1289.1L367.5,1288.8L370.5,1288.6L373.4,1288.4L376.4,1288.2L379.4,1288.0L382.4,1287.9L385.4,1287.7L388.4,1287.5L391.4,1287.3L394.4,1287.2L397.5,1287.0L400.5,1286.8L403.5,1286.7L406.5,1286.5L409.5,1286.3L412.5,1286.2L415.6,1286.0L418.6,1285.8L421.6,1285.7L424.6,1285.5L427.7,1285.3L430.7,1285.1L433.7,1284.9L436.7,1284.7L439.8,1284.5L442.8,1284.3L445.8,1284.1L448.8,1283.9L451.9,1283.6L454.9,1283.4L457.9,1283.1L460.9,1282.9L463.9,1282.6L466.9,1282.3L469.9,1282.0L472.9,1281.7L475.9,1281.4L478.9,1281.0L481.9,1280.7L484.9,1280.3L487.9,1279.9L490.9,1279.5L493.9,1279.1L496.8,1278.6L499.8,1278.2L502.7,1277.7L505.7,1277.2L508.6,1276.6L511.6,1276.1L514.5,1275.5L517.4,1274.9L520.4,1274.3L523.3,1273.7L526.2,1273.0L529.1,1272.3L532.0,1271.6L534.8,1270.9L537.7,1270.1L540.6,1269.3L543.4,1268.5L546.3,1267.6L549.1,1266.7L551.9,1265.8L554.8,1264.9L557.6,1263.9L560.4,1262.9L563.2,1261.8L565.9,1260.8L568.7,1259.7L571.4,1258.5L574.2,1257.3L576.9,1256.1L579.6,1254.9L582.3,1253.6L585.0,1252.2L587.7,1250.9L590.4,1249.5L593.0,1248.1L595.7,1246.6L598.3,1245.1L600.9,1243.6L603.5,1242.1L606.0,1240.5L608.6,1238.9L611.1,1237.2L613.6,1235.6L616.1,1233.9L618.6,1232.1L621.1,1230.4L623.5,1228.6L625.9,1226.8L628.3,1224.9L630.7,1223.0L633.1,1221.1L635.4,1219.2L637.7,1217.3L640.0,1215.3L642.3,1213.3L644.5,1211.3L646.7,1209.2L648.9,1207.1L651.1,1205.0L653.2,1202.9L655.3,1200.8L657.4,1198.6L659.5,1196.4L661.5,1194.2L663.5,1192.0L665.5,1189.7L667.5,1187.4L669.4,1185.1L671.3,1182.8L673.1,1180.5L675.0,1178.1L676.8,1175.8L678.5,1173.4L680.3,1171.0L682.0,1168.5L683.7,1166.1L685.4,1163.6L687.0,1161.2L688.6,1158.7L690.2,1156.2L691.8,1153.6L693.3,1151.1L694.8,1148.5L696.3,1146.0L697.8,1143.4L699.2,1140.8L700.7,1138.2L702.1,1135.5L703.5,1132.9L704.8,1130.2L706.2,1127.6L707.5,1124.9L708.8,1122.2L710.1,1119.5L711.3,1116.8L712.6,1114.1L713.8,1111.3L715.0,1108.6L716.2,1105.9L717.4,1103.1L718.5,1100.3L719.7,1097.5L720.8,1094.8L721.9,1092.0L723.0,1089.2L724.1,1086.4L725.2,1083.5L726.2,1080.7L727.3,1077.9L728.3,1075.0L729.3,1072.2L730.3,1069.4L731.3,1066.5L732.3,1063.7L733.3,1060.8L734.3,1057.9L735.2,1055.1L736.2,1052.2L737.1,1049.3L738.0,1046.4L739.0,1043.6L739.9,1040.7L740.8,1037.8L741.7,1034.9L742.6,1032.0L743.5,1029.1L744.4,1026.3L745.3,1023.4L746.1,1020.5L747.0,1017.6L747.9,1014.7L748.8,1011.8L749.6,1008.9L750.5,1006.1L751.3,1003.2L752.2,1000.3L753.0,997.4L753.8,994.5L754.7,991.6L755.5,988.7L756.3,985.9L757.1,983.0L758.0,980.1L758.8,977.2L759.6,974.3L760.4,971.4L761.2,968.5L762.0,965.6L762.7,962.8L763.5,959.9L764.3,957.0L765.1,954.1L765.8,951.2L766.6,948.3L767.4,945.4L768.1,942.5L768.9,939.6L769.6,936.7L770.4,933.8L771.1,930.9L771.8,928.0L772.6,925.1L773.3,922.2L774.0,919.3L774.7,916.4L775.4,913.5L776.1,910.6L776.8,907.7L777.5,904.8L778.2,901.9L778.9,899.0L779.6,896.1L780.3,893.2L781.0,890.3L781.7,887.4L782.3,884.5L783.0,881.6L783.6,878.7L784.3,875.7L785.0,872.8L785.6,869.9L786.3,867.0L786.9,864.1L787.5,861.1L788.2,858.2L788.8,855.3L789.4,852.4L790.0,849.4L790.7,846.5L791.3,843.6L791.9,840.7L792.5,837.7L793.1,834.8L793.7,831.9L794.3,828.9L794.9,826.0L795.5,823.0L796.0,820.1L796.6,817.2L797.2,814.2L797.8,811.3L798.3,808.3L798.9,805.4L799.5,802.4L800.0,799.5L800.6,796.5L801.1,793.6L801.7,790.6L802.2,787.7L802.8,784.7L803.3,781.8L803.8,778.8L804.4,775.9L804.9,772.9L805.4,770.0L806.0,767.0L806.5,764.0L807.0,761.1L807.5,758.1L808.0,755.2L808.5,752.2L809.0,749.2L809.5,746.3L810.0,743.3L810.5,740.3L811.0,737.4L811.5,734.4L812.0,731.4L812.5,728.5L813.0,725.5L813.5,722.5L814.0,719.6L814.4,716.6L814.9,713.6L815.4,710.7L815.9,707.7L816.3,704.7L816.8,701.7L817.3,698.8L817.7,695.8L818.2,692.8L818.6,689.8L819.1,686.9L819.5,683.9L820.0,680.9L820.5,678.0L820.9,675.0L821.4,672.0L821.8,669.0L822.2,666.1L822.7,663.1L823.1,660.1L823.6,657.1L824.0,654.2L824.4,651.2L824.9,648.2L825.3,645.2L825.7,642.3L826.2,639.3L826.6,636.3L827.0,633.3L827.4,630.4L827.9,627.4L828.3,624.4L828.7,621.4L829.1,618.5L829.6,615.5L830.0,612.5L830.4,609.5L830.8,606.6L831.2,603.6L831.6,600.6L832.1,597.6L832.5,594.7L832.9,591.7L833.3,588.7L833.7,585.8L834.1,582.8L834.5,579.8L834.9,576.8L835.3,573.9L835.7,570.9L836.1,567.9L836.5,564.9L837.0,562.0L837.4,559.0L837.8,556.0L838.2,553.0L838.6,550.1L839.0,547.1L839.4,544.1L839.8,541.1L840.2,538.2L840.6,535.2L841.0,532.2L841.4,529.3L841.8,526.3L842.2,523.3L842.6,520.3L843.0,517.4L843.4,514.4L843.8,511.4L844.2,508.4L844.6,505.5L845.0,502.5L845.4,499.5L845.8,496.6L846.2,493.6L846.6,490.6L847.0,487.6L847.4,484.7L847.8,481.7L848.2,478.7L848.6,475.8L849.0,472.8L849.4,469.8L849.8,466.9L850.2,463.9L850.6,460.9L851.0,457.9L851.4,455.0L851.8,452.0L852.2,449.0L852.6,446.1L853.0,443.1L853.4,440.1L853.8,437.2L854.2,434.2L854.6,431.2L855.0,428.2L855.4,425.3L855.8,422.3L856.3,419.3L856.7,416.4L857.1,413.4L857.5,410.4L857.9,407.5L858.3,404.5L858.8,401.5L859.2,398.6L859.6,395.6L860.0,392.6L860.4,389.7L860.9,386.7L861.3,383.7L861.7,380.8L862.1,377.8L862.6,374.8L863.0,371.9L863.4,368.9L863.9,365.9L864.3,363.0L864.7,360.0L865.2,357.0L865.6,354.1L866.1,351.1L866.5,348.2L866.9,345.2L867.4,342.2L867.8,339.3L868.3,336.3L868.7,333.3L869.2,330.4L869.7,327.4L870.1,324.5L870.6,321.5L871.1,318.5L871.6,315.6L872.1,312.6L872.6,309.6L873.1,306.7L873.6,303.7L874.1,300.7L874.7,297.8L875.2,294.8L875.8,291.8L876.4,288.9L877.0,285.9L877.6,282.9L878.3,279.9L878.9,277.0L879.6,274.0L880.3,271.0L881.0,268.0L881.7,265.1L882.5,262.1L883.2,259.2L884.0,256.3L884.7,253.4L885.5,250.6L886.3,247.8L887.0,245.0L887.8,242.3L888.6,239.6L889.3,237.0L890.1,234.4L890.9,231.6L891.8,228.7L892.7,225.5L893.8,222.1L895.0,218.7L896.3,215.3L897.9,212.1L899.7,209.2L901.7,206.8L903.7,205.4L905.8,205.4L907.8,206.6L909.8,208.5L911.6,210.9L913.3,213.4L914.9,215.9L916.4,218.6L917.8,221.2L919.1,223.9L920.2,226.6L921.3,229.4L922.3,232.2L923.3,235.0L924.1,237.9L924.9,240.7L925.7,243.6L926.3,246.6L927.0,249.5L927.6,252.5L928.1,255.4L928.6,258.4L929.1,261.4L929.6,264.4L930.1,267.4L930.5,270.4L931.0,273.4L931.5,276.4L931.9,279.4L932.4,282.4L932.9,285.4L933.3,288.4L933.8,291.4L934.3,294.4L934.7,297.3L935.2,300.3L935.7,303.3L936.1,306.3L936.6,309.3L937.1,312.2L937.6,315.2L938.0,318.2L938.5,321.2L939.0,324.1L939.5,327.1L940.0,330.1L940.4,333.1L940.9,336.0L941.4,339.0L941.9,342.0L942.3,344.9L942.8,347.9L943.3,350.9L943.8,353.8L944.3,356.8L944.7,359.7L945.2,362.7L945.7,365.7L946.2,368.6L946.6,371.6L947.1,374.5L947.6,377.5L948.0,380.4L948.5,383.4L949.0,386.4L949.4,389.3L949.9,392.3L950.4,395.2L950.8,398.2L951.3,401.1L951.7,404.1L952.2,407.0L952.7,410.0L953.1,413.0L953.6,415.9L954.0,418.9L954.5,421.8L954.9,424.8L955.3,427.7L955.8,430.7L956.2,433.6L956.7,436.6L957.1,439.6L957.5,442.5L957.9,445.5L958.4,448.4L958.8,451.4L959.2,454.4L959.6,457.3L960.0,460.3L960.4,463.2L960.8,466.2L961.2,469.2L961.6,472.1L962.0,475.1L962.4,478.1L962.8,481.0L963.2,484.0L963.6,487.0L963.9,489.9L964.3,492.9L964.7,495.9L965.0,498.9L965.4,501.8L965.7,504.8L966.1,507.8L966.4,510.8L966.8,513.8L967.1,516.8L967.5,519.7L967.8,522.7L968.1,525.7L968.4,528.7L968.8,531.7L969.1,534.7L969.4,537.7L969.7,540.7L970.0,543.6L970.4,546.6L970.7,549.6L971.0,552.6L971.3,555.6L971.6,558.6L971.9,561.6L972.2,564.6L972.5,567.6L972.8,570.6L973.1,573.6L973.4,576.6L973.7,579.6L974.0,582.6L974.3,585.6L974.6,588.6L974.9,591.6L975.2,594.6L975.5,597.6L975.8,600.6L976.1,603.5L976.4,606.5L976.7,609.5L977.0,612.5L977.3,615.5L977.6,618.5L977.9,621.5L978.2,624.5L978.5,627.5L978.9,630.5L979.2,633.5L979.5,636.5L979.8,639.5L980.2,642.5L980.5,645.4L980.8,648.4L981.1,651.4L981.5,654.4L981.8,657.4L982.2,660.4L982.5,663.3L982.9,666.3L983.2,669.3L983.6,672.3L983.9,675.3L984.3,678.2L984.7,681.2L985.1,684.2L985.4,687.2L985.8,690.1L986.2,693.1L986.6,696.1L987.0,699.1L987.4,702.0L987.8,705.0L988.1,708.0L988.5,710.9L989.0,713.9L989.4,716.9L989.8,719.8L990.2,722.8L990.6,725.8L991.0,728.7L991.4,731.7L991.9,734.6L992.3,737.6L992.7,740.6L993.1,743.5L993.6,746.5L994.0,749.4L994.4,752.4L994.9,755.4L995.3,758.3L995.8,761.3L996.2,764.2L996.7,767.2L997.1,770.2L997.6,773.1L998.0,776.1L998.5,779.0L998.9,782.0L999.4,784.9L999.9,787.9L1000.3,790.8L1000.8,793.8L1001.3,796.8L1001.7,799.7L1002.2,802.7L1002.7,805.6L1003.2,808.6L1003.6,811.5L1004.1,814.5L1004.6,817.4L1005.1,820.4L1005.6,823.3L1006.0,826.3L1006.5,829.2L1007.0,832.2L1007.5,835.1L1008.0,838.1L1008.5,841.1L1009.0,844.0L1009.5,847.0L1010.0,849.9L1010.5,852.9L1011.0,855.8L1011.5,858.8L1012.0,861.7L1012.5,864.7L1013.0,867.6L1013.5,870.6L1014.0,873.6L1014.5,876.5L1015.0,879.5L1015.5,882.4L1016.0,885.4L1016.5,888.3L1017.0,891.3L1017.5,894.3L1018.0,897.2L1018.5,900.2L1019.0,903.1L1019.5,906.1L1020.1,909.1L1020.6,912.0L1021.1,915.0L1021.6,918.0L1022.1,920.9L1022.6,923.9L1023.1,926.9L1023.6,929.8L1024.2,932.8L1024.7,935.7L1025.2,938.7L1025.7,941.7L1026.2,944.6L1026.8,947.6L1027.3,950.6L1027.8,953.5L1028.3,956.5L1028.9,959.5L1029.4,962.4L1029.9,965.4L1030.5,968.4L1031.0,971.3L1031.6,974.3L1032.1,977.2L1032.7,980.2L1033.2,983.2L1033.8,986.1L1034.4,989.1L1034.9,992.0L1035.5,995.0L1036.1,998.0L1036.6,1000.9L1037.2,1003.9L1037.8,1006.8L1038.4,1009.8L1039.0,1012.7L1039.6,1015.7L1040.2,1018.6L1040.8,1021.6L1041.4,1024.5L1042.0,1027.5L1042.7,1030.4L1043.3,1033.3L1043.9,1036.3L1044.6,1039.2L1045.2,1042.2L1045.9,1045.1L1046.5,1048.0L1047.2,1051.0L1047.9,1053.9L1048.5,1056.8L1049.2,1059.7L1049.9,1062.7L1050.6,1065.6L1051.3,1068.5L1052.0,1071.4L1052.7,1074.3L1053.5,1077.2L1054.2,1080.2L1054.9,1083.1L1055.7,1086.0L1056.4,1088.9L1057.2,1091.8L1058.0,1094.7L1058.7,1097.6L1059.5,1100.5L1060.3,1103.3L1061.1,1106.2L1061.9,1109.1L1062.8,1112.0L1063.6,1114.9L1064.4,1117.7L1065.3,1120.6L1066.1,1123.5L1067.0,1126.4L1067.9,1129.2L1068.7,1132.1L1069.6,1134.9L1070.5,1137.8L1071.5,1140.6L1072.4,1143.5L1073.3,1146.3L1074.3,1149.2L1075.2,1152.0L1076.2,1154.8L1077.1,1157.7L1078.1,1160.5L1079.1,1163.3L1080.1,1166.1L1081.1,1168.9L1082.2,1171.7L1083.2,1174.5L1084.3,1177.3L1085.3,1180.1L1086.4,1182.9L1087.5,1185.7L1088.6,1188.5L1089.7,1191.3L1090.8,1194.1L1091.9,1196.8L1093.1,1199.6L1094.2,1202.4L1095.4,1205.1L1096.6,1207.9L1097.8,1210.6L1099.0,1213.4L1100.2,1216.1L1101.5,1218.8L1102.7,1221.6L1104.0,1224.3L1105.2,1227.0L1106.5,1229.7L1107.8,1232.4L1109.2,1235.1L1110.5,1237.8L1111.8,1240.5L1113.2,1243.2L1114.6,1245.8L1116.0,1248.5L1117.4,1251.1L1118.8,1253.8L1120.2,1256.4L1121.7,1259.0L1123.2,1261.7L1124.6,1264.3L1126.2,1266.9L1127.7,1269.5L1129.2,1272.0L1130.8,1274.6L1132.3,1277.2L1133.9,1279.7L1135.5,1282.2L1137.2,1284.8L1138.8,1287.3L1140.5,1289.8L1142.1,1292.3L1143.8,1294.7L1145.5,1297.2L1147.3,1299.6L1149.0,1302.1L1150.8,1304.5L1152.6,1306.9L1154.4,1309.3L1156.2,1311.7L1158.1,1314.1L1160.0,1316.4L1161.8,1318.7L1163.8,1321.1L1165.7,1323.4L1167.6,1325.7L1169.6,1327.9L1171.6,1330.2L1173.6,1332.4L1175.7,1334.6L1177.7,1336.8L1179.8,1339.0L1181.9,1341.2L1184.0,1343.3L1186.1,1345.5L1188.3,1347.6L1190.5,1349.6L1192.7,1351.7L1194.9,1353.7L1197.1,1355.7L1199.4,1357.7L1201.6,1359.7L1203.9,1361.6L1206.2,1363.5L1208.6,1365.4L1210.9,1367.2L1213.3,1369.1L1215.7,1370.9L1218.1,1372.6L1220.5,1374.4L1223.0,1376.1L1225.5,1377.7L1228.0,1379.4L1230.5,1381.0L1233.0,1382.6L1235.5,1384.1L1238.1,1385.6L1240.7,1387.1L1243.3,1388.6L1245.9,1390.0L1248.6,1391.4L1251.2,1392.7L1253.9,1394.1L1256.6,1395.4L1259.3,1396.7L1262.0,1397.9L1264.7,1399.1L1267.4,1400.3L1270.2,1401.5L1272.9,1402.6L1275.7,1403.8L1278.5,1404.9L1281.3,1405.9L1284.1,1407.0L1286.9,1408.0L1289.8,1409.0L1292.6,1410.0L1295.5,1411.0L1298.3,1411.9L1301.2,1412.9L1304.1,1413.8L1306.9,1414.6L1309.8,1415.5L1312.7,1416.4L1315.6,1417.2L1318.5,1418.0L1321.4,1418.8L1324.3,1419.6L1327.2,1420.4L1330.2,1421.1L1333.1,1421.9L1336.0,1422.6L1338.9,1423.3L1341.9,1424.1L1344.8,1424.7L1347.7,1425.4L1350.7,1426.1L1353.6,1426.8L1356.5,1427.4L1359.5,1428.0L1362.4,1428.7L1365.3,1429.3L1368.3,1429.9L1371.2,1430.5L1374.2,1431.1L1377.1,1431.6L1380.1,1432.2L1383.0,1432.7L1386.0,1433.3L1388.9,1433.8L1391.9,1434.3L1394.8,1434.8L1397.8,1435.3L1400.8,1435.8L1403.7,1436.3L1406.7,1436.7L1409.6,1437.2L1412.6,1437.7L1415.6,1438.1L1418.5,1438.5L1421.5,1438.9L1424.5,1439.4L1427.4,1439.8L1430.4,1440.2L1433.4,1440.5L1436.4,1440.9L1439.3,1441.3L1442.3,1441.7L1445.3,1442.0L1448.3,1442.4L1451.2,1442.7L1454.2,1443.0L1457.2,1443.3L1460.2,1443.7L1463.2,1444.0L1466.1,1444.3L1469.1,1444.6L1472.1,1444.9L1475.1,1445.1L1478.1,1445.4L1481.1,1445.7L1484.1,1445.9L1487.0,1446.2L1490.0,1446.4L1493.0,1446.7L1496.0,1446.9L1499.0,1447.2L1502.0,1447.4L1505.0,1447.6L1508.0,1447.8L1511.0,1448.0L1514.0,1448.2L1517.0,1448.4L1520.0,1448.6L1522.9,1448.8L1525.9,1449.0L1528.9,1449.2L1531.9,1449.4L1534.9,1449.5L1537.9,1449.7L1540.9,1449.9L1543.9,1450.0L1546.9,1450.2L1549.9,1450.4L1552.9,1450.5L1555.9,1450.7L1558.9,1450.8L1561.9,1450.9L1564.9,1451.1L1567.9,1451.2L1570.9,1451.3L1573.9,1451.5L1576.9,1451.6L1579.9,1451.7L1582.9,1451.9L1585.9,1452.0L1588.9,1452.1L1591.9,1452.2L1594.9,1452.3L1597.9,1452.4L1600.9,1452.5L1603.9,1452.6L1606.9,1452.7L1609.9,1452.8L1612.9,1452.9L1615.9,1453.0L1618.9,1453.1L1621.9,1453.2L1624.9,1453.3L1627.9,1453.4L1630.9,1453.5L1633.9,1453.6L1636.9,1453.7L1639.9,1453.7L1642.9,1453.8L1645.9,1453.9L1648.9,1454.0L1651.9,1454.0L1654.9,1454.1L1657.9,1454.2L1660.9,1454.2L1663.9,1454.3L1666.9,1454.3L1669.9,1454.4L1672.9,1454.5L1675.9,1454.5L1678.9,1454.6L1681.9,1454.6L1684.9,1454.7L1687.9,1454.7L1690.9,1454.8L1693.9,1454.8L1696.9,1454.8L1699.9,1454.9L1702.9,1454.9L1705.9,1454.9L1708.9,1455.0L1711.9,1455.0L1714.9,1455.0L1717.9,1455.1L1720.9,1455.1L1723.9,1455.1L1726.9,1455.1L1729.9,1455.1L1732.9,1455.2L1735.9,1455.2L1738.9,1455.2L1741.9,1455.2L1744.9,1455.2L1747.9,1455.2L1750.9,1455.2L1753.9,1455.2L1756.9,1455.2L1759.9,1455.2L1762.9,1455.2L1765.9,1455.2L1768.9,1455.2L1771.9,1455.2L1774.9,1455.2L1777.9,1455.2L1780.9,1455.2L1783.9,1455.2L1786.9,1455.2L1789.9,1455.2L1792.9,1455.2L1795.9,1455.1L1798.9,1455.1L1801.9,1455.1L1804.9,1455.1L1807.9,1455.1L1810.9,1455.0L1813.9,1455.0L1816.9,1455.0L1819.9,1455.0L1822.9,1454.9L1825.9,1454.9L1828.9,1454.9L1831.9,1454.8L1834.9,1454.8L1837.9,1454.8L1840.9,1454.7L1843.9,1454.7L1846.9,1454.6L1849.9,1454.6L1852.9,1454.6L1855.9,1454.5L1858.9,1454.5L1861.9,1454.4L1864.9,1454.4L1867.9,1454.3L1870.9,1454.3L1873.9,1454.2L1876.9,1454.2L1879.9,1454.1L1882.9,1454.1L1885.9,1454.0L1889.0,1453.9L1892.0,1453.9L1895.0,1453.8L1898.0,1453.8L1901.0,1453.7L1904.0,1453.6L1907.0,1453.6L1910.0,1453.5L1913.0,1453.5L1916.0,1453.4L1919.0,1453.3L1922.0,1453.3L1925.0,1453.2L1928.0,1453.1L1931.0,1453.0L1934.0,1453.0L1937.0,1452.9L1940.0,1452.8L1943.0,1452.8L1946.0,1452.7L1949.0,1452.6L1952.0,1452.5L1955.0,1452.4L1958.0,1452.4L1961.0,1452.3L1964.0,1452.2L1967.0,1452.1L1970.0,1452.1L1973.0,1452.0L1976.0,1451.9L1979.0,1451.8L1982.0,1451.7L1985.0,1451.6L1988.0,1451.5L1991.0,1451.5L1994.0,1451.4L1997.0,1451.3L2000.0,1451.2L2003.0,1451.1L2006.0,1451.0L2009.0,1450.9L2012.0,1450.8L2015.0,1450.7L2018.0,1450.7L2021.0,1450.6L2024.0,1450.5L2027.0,1450.4L2030.0,1450.3L2033.0,1450.2L2036.0,1450.1L2039.0,1450.0L2042.0,1449.9L2045.0,1449.8L2048.0,1449.7L2051.0,1449.6L2054.0,1449.5L2057.0,1449.4L2060.0,1449.3L2063.0,1449.2L2066.0,1449.1L2069.0,1449.0L2072.0,1448.9L2075.0,1448.8L2078.0,1448.7L2081.0,1448.6L2084.0,1448.5L2087.0,1448.4L2090.0,1448.3L2093.0,1448.2L2096.0,1448.1L2099.0,1448.0L2102.0,1447.9L2105.0,1447.8L2108.0,1447.7L2111.0,1447.6L2114.0,1447.5L2117.0,1447.4L2120.0,1447.3L2123.0,1447.2L2126.0,1447.1L2129.0,1447.0L2132.0,1446.9L2135.0,1446.8L2138.0,1446.7L2141.0,1446.6L2144.0,1446.5L2147.0,1446.4L2150.0,1446.3L2153.0,1446.2L2156.0,1446.1L2159.0,1446.0L2162.0,1445.9L2165.0,1445.8L2168.1,1445.7L2171.1,1445.6L2174.1,1445.5L2177.1,1445.4L2180.1,1445.3L2183.1,1445.2L2186.1,1445.1L2189.1,1445.0L2192.1,1444.9L2195.1,1444.8L2198.1,1444.7L2201.1,1444.6L2204.1,1444.5L2207.1,1444.4L2210.1,1444.3L2213.1,1444.2L2216.1,1444.1L2219.1,1444.0L2222.1,1443.9L2225.1,1443.8L2228.1,1443.7L2231.1,1443.6L2234.1,1443.5L2237.1,1443.4L2240.1,1443.4L2243.1,1443.3L2246.1,1443.2L2249.1,1443.1L2252.1,1443.0L2255.1,1442.9L2258.1,1442.8L2261.1,1442.7L2264.1,1442.6L2267.1,1442.5L2270.1,1442.4L2273.1,1442.4L2276.1,1442.3L2279.1,1442.2L2282.1,1442.1L2285.1,1442.0L2288.1,1441.9L2291.1,1441.8L2294.0,1441.8L2297.0,1441.7L2300.0,1441.6L2303.0,1441.5L2306.0,1441.4L2309.0,1441.3L2312.0,1441.3L2315.0,1441.2L2318.0,1441.1L2321.0,1441.0L2324.0,1441.0L2327.0,1440.9L2330.0,1440.8L2333.0,1440.7L2336.0,1440.7L2339.0,1440.6L2342.0,1440.5L2345.0,1440.4L2348.0,1440.4L2351.0,1440.3L2354.0,1440.2L2357.0,1440.2L2360.0,1440.1L2363.0,1440.0L2366.0,1440.0L2369.0,1439.9L2372.0,1439.9L2375.0,1439.8L2378.0,1439.7L2381.0,1439.7L2384.0,1439.6L2387.0,1439.6L2390.0,1439.5L2393.0,1439.5L2396.0,1439.4L2399.0,1439.4L2402.0,1439.3L2405.0,1439.3L2408.0,1439.2" stroke="#6a1088"/></g><line x1="342" y1="1342.2" x2="2418" y2="1342.2" stroke="#ff00ff" stroke-width="7.5" stroke-dasharray="23.5 7.96" stroke-dashoffset="-7.9"/><g font-family="'Liberation Sans', Arial, Helvetica, sans-serif"><text x="191.8" y="319.8" font-size="84">2.0</text><text x="193" y="752.2" font-size="84">1.6</text><text x="193.4" y="1169" font-size="84">1.2</text><text x="192.6" y="1596.8" font-size="84">0.8</text><text x="442.6" y="1733.8" font-size="84">400</text><text x="1073.9" y="1733.8" font-size="84">500</text><text x="1698.7" y="1733.8" font-size="84">600</text><text x="2334.8" y="1733.8" font-size="84">700</text><text x="457.2" y="260.8" font-size="94" font-weight="bold">S/SR</text><g font-size="110" font-weight="bold"><text x="954.6" y="1829" textLength="596.4" lengthAdjust="spacingAndGlyphs">Wavelength</text><text x="1571.7" y="1829" textLength="237.6" lengthAdjust="spacingAndGlyphs">(nm)</text></g><g transform="translate(136.9,1750) rotate(-90)" font-size="109" font-weight="bold"><text x="-0.2" y="0" textLength="444.0" lengthAdjust="spacingAndGlyphs">Intensity</text><text x="460.2" y="0" textLength="673.2" lengthAdjust="spacingAndGlyphs">ratio/radiated</text><text x="1151.2" y="0" textLength="319.0" lengthAdjust="spacingAndGlyphs">power</text><text x="1490.5" y="0" textLength="233.4" lengthAdjust="spacingAndGlyphs">ratio</text></g><g font-size="96" fill="#7030a0"><text x="1093.8" y="329" textLength="261.8" lengthAdjust="spacingAndGlyphs">Donor</text><text x="1377.5" y="329" textLength="352.0" lengthAdjust="spacingAndGlyphs">intensity</text><text x="1747.2" y="329" textLength="183.1" lengthAdjust="spacingAndGlyphs">ratio</text><text x="1959.8" y="329" textLength="401.9" lengthAdjust="spacingAndGlyphs">(y-dipole)</text></g><g font-size="96" fill="#008000"><text x="1079.0" y="626.6" textLength="262.1" lengthAdjust="spacingAndGlyphs">Donor</text><text x="1361.5" y="626.6" textLength="352.0" lengthAdjust="spacingAndGlyphs">intensity</text><text x="1732.0" y="626.6" textLength="182.4" lengthAdjust="spacingAndGlyphs">ratio</text><text x="1944.6" y="626.6" textLength="398.7" lengthAdjust="spacingAndGlyphs">(x-dipole)</text></g><text x="1189.7" y="831.6" font-size="96" fill="#ff0000" textLength="1041.3" lengthAdjust="spacingAndGlyphs">Acceptor radiative power</text><text x="1169.4" y="945.6" font-size="96" fill="#ff0000" textLength="605.6" lengthAdjust="spacingAndGlyphs">ratio (x-dipole)</text><text x="1263.9" y="1122.3" font-size="96" fill="#0000ff" textLength="1041.3" lengthAdjust="spacingAndGlyphs">Acceptor radiative power</text><text x="1243.8" y="1235" font-size="96" fill="#0000ff" textLength="611.5" lengthAdjust="spacingAndGlyphs">ratio (y-dipole)</text></g><line x1="864.8" y1="78" x2="864.8" y2="1653" stroke="#0000ff" stroke-width="7.8" stroke-dasharray="25 6.5" stroke-dashoffset="22.5"/><line x1="1332.8" y1="66" x2="1332.8" y2="1653" stroke="#008000" stroke-width="7.8" stroke-dasharray="25 6.5" stroke-dashoffset="14.5"/><line x1="1930" y1="78" x2="1930" y2="1653" stroke="#ff0000" stroke-width="7.8" stroke-dasharray="25 6.5" stroke-dashoffset="26.5"/><line x1="1080.0" y1="298.5" x2="950.6" y2="236.8" stroke="#7030a0" stroke-width="3"/><polygon points="928.0,226.0 958.0,225.9 946.8,249.4" fill="#7030a0"/><line x1="1108.4" y1="648.8" x2="1012.9" y2="711.8" stroke="#008000" stroke-width="3"/><polygon points="992.0,725.6 1007.4,699.9 1021.7,721.6" fill="#008000"/><line x1="1186.8" y1="970.2" x2="1097.2" y2="1354.7" stroke="#ff0000" stroke-width="3"/><polygon points="1091.5,1379.0 1085.0,1349.8 1110.3,1355.7" fill="#ff0000"/><line x1="1550.5" y1="1237.9" x2="1543.6" y2="1288.2" stroke="#0000ff" stroke-width="3"/><polygon points="1540.5,1311.0 1531.0,1284.5 1556.8,1288.0" fill="#0000ff"/></g></svg>
</body></html>
